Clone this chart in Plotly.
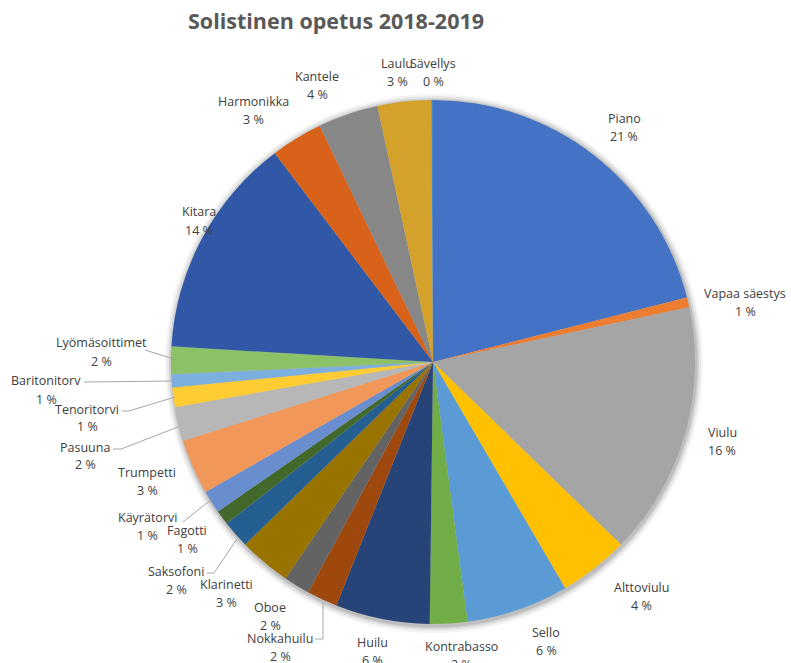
import plotly.graph_objects as go

# ---- data (share of students, %) ----
instruments = ["Piano", "Vapaa säestys", "Viulu", "Alttoviulu", "Sello", "Kontrabasso",
               "Huilu", "Nokkahuilu", "Oboe", "Klarinetti", "Saksofoni", "Fagotti",
               "Käyrätorvi", "Trumpetti", "Pasuuna", "Tenoritorvi", "Baritonitorv",
               "Lyömäsoittimet", "Kitara", "Harmonikka", "Kantele", "Laulu", "Sävellys"]
shares = [21.0, 0.6, 15.6, 4.3, 6.3, 2.3,
          5.8, 1.9, 1.6, 3.2, 1.7, 0.9,
          1.4, 3.4, 2.1, 1.2, 0.8,
          1.7, 13.7, 3.2, 3.7, 3.3, 0.1]
title_text = "Solistinen opetus 2018-2019"

colors = ["#4472C4", "#ED7D31", "#A5A5A5", "#FFC000", "#5B9BD5", "#70AD47",
          "#264478", "#9E480E", "#636363", "#997300", "#255E91", "#43682B",
          "#698ED0", "#F1975A", "#B7B7B7", "#FFCD33", "#7CAFDD", "#8CC168",
          "#3058A6", "#D9621A", "#878787", "#D4A22B", "#4A8ACB"]

W, H = 791, 663
CX, CY, R = 433, 362, 262

# label centre positions in pixels (name line), layout only
label_pos = {
    "Piano": (624, 118), "Vapaa säestys": (745, 293), "Viulu": (722, 432),
    "Alttoviulu": (641, 587), "Sello": (546, 632), "Kontrabasso": (461, 646),
    "Huilu": (372, 642), "Nokkahuilu": (280, 638), "Oboe": (270, 607),
    "Klarinetti": (226, 584), "Saksofoni": (176, 571), "Fagotti": (187, 530),
    "Käyrätorvi": (147, 517), "Trumpetti": (147, 472), "Pasuuna": (85, 447),
    "Tenoritorvi": (87, 409), "Baritonitorv": (46, 381), "Lyömäsoittimet": (101, 343),
    "Kitara": (199, 212), "Harmonikka": (253, 101), "Kantele": (317, 76),
    "Laulu": (397, 63), "Sävellys": (433, 63),
}
# leader lines (pixel polylines), layout only
leaders = [
    [(145, 350), (174, 359)],
    [(84, 382), (174, 381)],
    [(122, 411), (129, 411), (175, 397)],
    [(113, 449), (121, 449), (178, 427)],
    [(183, 522), (212, 499)],
    [(207, 573), (214, 573), (237, 539)],
    [(315, 639), (323, 639), (323, 602)],
]


def px(x):
    return x / W


def py(y):
    return (H - y) / H


total = sum(shares)
pct_text = [f"{round(v / total * 100)} %" for v in shares]

fig = go.Figure()
fig.add_trace(go.Pie(
    labels=instruments, values=shares, sort=False, direction="clockwise", rotation=0,
    marker=dict(colors=colors, line=dict(width=0)),
    textinfo="none", hoverinfo="label+percent", showlegend=False,
    domain=dict(x=[px(CX - R), px(CX + R)], y=[py(CY + R), py(CY - R)]),
))

shapes = []
# soft shadow around the pie
for d, op in [(7, 0.04), (5, 0.06), (3, 0.08), (1.5, 0.10)]:
    shapes.append(dict(type="circle", xref="paper", yref="paper", layer="below",
                       x0=px(CX - R - d + 1), x1=px(CX + R + d + 1),
                       y0=py(CY + R + d + 2), y1=py(CY - R - d + 1),
                       fillcolor=f"rgba(0,0,0,{op})", line=dict(width=0)))
for pts in leaders:
    for (x0, y0), (x1, y1) in zip(pts[:-1], pts[1:]):
        shapes.append(dict(type="line", xref="paper", yref="paper",
                           x0=px(x0), y0=py(y0), x1=px(x1), y1=py(y1),
                           line=dict(color="#A6A6A6", width=1)))

annotations = []
font = dict(family="Open Sans, Segoe UI, sans-serif", size=12.5, color="#404040")
for name, txt in zip(instruments, pct_text):
    x, y = label_pos[name]
    annotations.append(dict(x=px(x), y=py(y), xref="paper", yref="paper", text=name,
                            showarrow=False, xanchor="center", yanchor="middle", font=font))
    annotations.append(dict(x=px(x), y=py(y + 18), xref="paper", yref="paper", text=txt,
                            showarrow=False, xanchor="center", yanchor="middle", font=font))

fig.update_layout(
    width=W, height=H, margin=dict(l=0, r=0, t=0, b=0),
    paper_bgcolor="white", plot_bgcolor="white",
    title=dict(text=f"<b>{title_text}</b>", x=px(336), xanchor="center",
               y=py(21), yanchor="middle",
               font=dict(family="Open Sans, Segoe UI, sans-serif", size=21.5, color="#595959")),
    shapes=shapes, annotations=annotations,
)

fig.write_html("out.html")
